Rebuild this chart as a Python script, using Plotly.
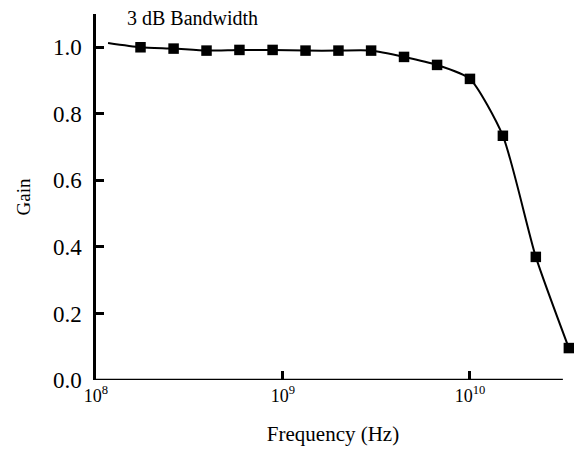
import plotly.graph_objects as go

freq_hz = [1.16e8, 1.73e8, 2.6e8, 3.9e8, 5.85e8, 8.8e8, 1.32e9, 1.98e9, 2.96e9,
           4.44e9, 6.67e9, 1.0e10, 1.5e10, 2.25e10, 3.38e10]
gain = [1.013, 1.0, 0.996, 0.99, 0.992, 0.992, 0.99, 0.99, 0.99,
        0.971, 0.947, 0.905, 0.734, 0.37, 0.096]
marker_shown = [0] + [1] * 14

x_tick_vals = [1e8, 1e9, 1e10]
x_tick_text = ["10<sup>8</sup>", "10<sup>9</sup>", "10<sup>10</sup>"]
y_tick_vals = [0.0, 0.2, 0.4, 0.6, 0.8, 1.0]
y_tick_text = ["0.0", "0.2", "0.4", "0.6", "0.8", "1.0"]

FONT = "Liberation Serif"

fig = go.Figure()
fig.add_trace(go.Scatter(
    x=freq_hz, y=gain, mode="lines+markers",
    line=dict(color="black", width=2, shape="spline", smoothing=0.6),
    marker=dict(symbol="square", color="#000000", opacity=1, line=dict(width=0),
                size=[10.5 * m for m in marker_shown]),
    cliponaxis=False, showlegend=False,
))

# bottom axis line ending at the axis end (~3.14e10)
fig.add_shape(type="line", xref="x", yref="y", x0=1e8, x1=3.14e10, y0=0, y1=0,
              line=dict(color="black", width=2.5))

fig.add_annotation(text="3 dB Bandwidth", xref="paper", yref="paper",
                   x=0.061, y=0.99, xanchor="left", yanchor="middle",
                   showarrow=False, font=dict(family=FONT, size=20, color="black"))

fig.update_layout(
    width=574, height=450,
    margin=dict(l=96, r=4, t=14, b=70),
    paper_bgcolor="white", plot_bgcolor="white",
    font=dict(family=FONT, color="black"),
    xaxis=dict(type="log", range=[8, 10.535], showline=False, showgrid=False,
               zeroline=False, ticks="inside", ticklen=9, tickwidth=2.5,
               tickcolor="black", tickvals=x_tick_vals, ticktext=x_tick_text,
               tickfont=dict(family=FONT, size=18), ticklabelstandoff=3,
               automargin=False,
               title=dict(text="Frequency (Hz)", font=dict(family=FONT, size=21),
                          standoff=21)),
    yaxis=dict(range=[0, 1.1], showline=True, linecolor="black", linewidth=2.5,
               showgrid=False, zeroline=False, ticks="inside", ticklen=8,
               tickwidth=2.5, tickcolor="black", tickvals=y_tick_vals,
               ticktext=y_tick_text, tickfont=dict(family=FONT, size=23),
               ticklabelstandoff=7, automargin=False,
               title=dict(text="Gain", font=dict(family=FONT, size=19),
                          standoff=18)),
)

fig.write_html(
    "out.html",
    config={"displayModeBar": False},
    post_script="document.body.style.margin='0';"
                "document.body.style.overflow='hidden';",
)
